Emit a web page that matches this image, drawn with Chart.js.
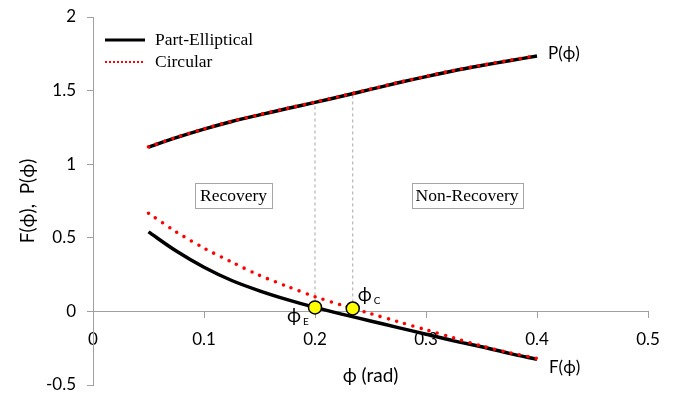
<!DOCTYPE html>
<html>
<head>
<meta charset="utf-8">
<script src="https://cdn.jsdelivr.net/npm/chart.js@4.4.1/dist/chart.umd.min.js"></script>
<style>
  html, body { margin: 0; padding: 0; background: #fff; }
  #wrap { width: 676px; height: 397px; }
</style>
</head>
<body>
<div id="wrap"><canvas id="c" width="676" height="397"></canvas></div>
<script>
// Angle samples (rad)
const phi = [0.05, 0.075, 0.1, 0.125, 0.15, 0.175, 0.2, 0.225, 0.25, 0.275, 0.3, 0.325, 0.35, 0.375, 0.4];

// Part-elliptical model
const fElliptical = [0.54, 0.41, 0.30, 0.21, 0.14, 0.08, 0.027, -0.02, -0.065, -0.11, -0.155, -0.20, -0.24, -0.285, -0.325];
const pElliptical = [1.116, 1.18, 1.238, 1.29, 1.335, 1.378, 1.42, 1.463, 1.508, 1.553, 1.595, 1.635, 1.67, 1.703, 1.735];

// Circular model
const fCircular = [0.667, 0.54, 0.43, 0.335, 0.245, 0.17, 0.10, 0.04, -0.015, -0.07, -0.125, -0.18, -0.235, -0.28, -0.32];
const pCircular = [1.118, 1.182, 1.24, 1.292, 1.337, 1.38, 1.422, 1.465, 1.51, 1.555, 1.597, 1.637, 1.672, 1.705, 1.738];

// Equilibrium points F(phi) = 0 and where they meet P(phi)
const phiE = { x: 0.2, y: 0.027, p: 1.42 };
const phiC = { x: 0.234, y: 0.02, p: 1.478 };

// Axis ticks
const xTicks = [0, 0.1, 0.2, 0.3, 0.4, 0.5];
const yTicks = [-0.5, 0, 0.5, 1, 1.5, 2];

const pts = (xs, ys) => xs.map((x, i) => ({ x: x, y: ys[i] }));

const RED = '#ff0000';
const AXIS = '#a0a0a0';
const SANS = 'Lato, "Open Sans", "DejaVu Sans", sans-serif';
const SERIF = '"Liberation Serif", "DejaVu Serif", serif';

// Free-floating annotations: legend, curve names, point names, region boxes
const annotations = {
  id: 'annotations',
  afterDatasetsDraw(chart) {
    const { ctx, chartArea: a, scales: { x, y } } = chart;
    ctx.save();

    // legend
    const lx = a.left + 12;
    ctx.lineCap = 'butt';
    ctx.strokeStyle = '#000';
    ctx.lineWidth = 3;
    ctx.beginPath(); ctx.moveTo(lx, a.top + 23); ctx.lineTo(lx + 40, a.top + 23); ctx.stroke();
    ctx.strokeStyle = RED;
    ctx.lineWidth = 2;
    ctx.setLineDash([2, 2]);
    ctx.beginPath(); ctx.moveTo(lx, a.top + 45); ctx.lineTo(lx + 40, a.top + 45); ctx.stroke();
    ctx.setLineDash([]);
    ctx.fillStyle = '#000';
    ctx.font = '17.5px ' + SERIF;
    ctx.textAlign = 'left';
    ctx.textBaseline = 'middle';
    ctx.fillText('Part-Elliptical', lx + 50, a.top + 23);
    ctx.fillText('Circular', lx + 50, a.top + 45);

    // region boxes
    const box = (label, cx, cy, w) => {
      const px = x.getPixelForValue(cx), py = y.getPixelForValue(cy);
      ctx.strokeStyle = '#a6a6a6';
      ctx.lineWidth = 1;
      ctx.strokeRect(Math.round(px - w / 2) + 0.5, Math.round(py - 12.5) + 0.5, w, 25);
      ctx.fillStyle = '#000';
      ctx.textAlign = 'center';
      ctx.fillText(label, px, py + 1);
    };
    box('Recovery', 0.1266, 0.788, 77);
    box('Non-Recovery', 0.337, 0.788, 111);

    // curve names
    ctx.font = '17px ' + SANS;
    ctx.textAlign = 'left';
    ctx.fillText('P(\u03D5)', x.getPixelForValue(0.4) + 11, y.getPixelForValue(pElliptical[pElliptical.length - 1]) - 2);
    ctx.fillText('F(\u03D5)', x.getPixelForValue(0.4) + 12, y.getPixelForValue(fElliptical[fElliptical.length - 1]) + 8);

    // point names with subscripts
    const named = (sub, px, py) => {
      ctx.font = '19px ' + SANS;
      ctx.textAlign = 'left';
      ctx.fillText('\u03D5', px, py);
      const w = ctx.measureText('\u03D5').width;
      ctx.font = '10px ' + SANS;
      ctx.fillText(sub, px + w + 2, py + 6);
    };
    named('E', x.getPixelForValue(phiE.x) - 28, y.getPixelForValue(phiE.y) + 8);
    named('C', x.getPixelForValue(phiC.x) + 5, y.getPixelForValue(phiC.y) - 14);

    ctx.restore();
  }
};

new Chart(document.getElementById('c'), {
  type: 'line',
  data: {
    datasets: [
      { label: 'phiE', data: [{ x: phiE.x, y: phiE.y }], showLine: false, pointRadius: 6.5,
        pointBackgroundColor: '#ffff00', pointBorderColor: '#000', pointBorderWidth: 1.5, order: 0 },
      { label: 'phiC', data: [{ x: phiC.x, y: phiC.y }], showLine: false, pointRadius: 6.5,
        pointBackgroundColor: '#ffff00', pointBorderColor: '#000', pointBorderWidth: 1.5, order: 0 },
      { label: 'Circular F', data: pts(phi, fCircular), borderColor: RED, borderWidth: 3.6,
        borderDash: [0, 8.5], borderCapStyle: 'round', pointRadius: 0, tension: 0.3, order: 1 },
      { label: 'Circular P', data: pts(phi, pCircular), borderColor: RED, borderWidth: 3.6,
        borderDash: [0, 8.5], borderCapStyle: 'round', pointRadius: 0, tension: 0.3, order: 1 },
      { label: 'Part-Elliptical F', data: pts(phi, fElliptical), borderColor: '#000', borderWidth: 3.5,
        pointRadius: 0, tension: 0.3, order: 2 },
      { label: 'Part-Elliptical P', data: pts(phi, pElliptical), borderColor: '#000', borderWidth: 3.5,
        pointRadius: 0, tension: 0.3, order: 2 },
      { label: 'E guide', data: [{ x: phiE.x, y: phiE.y }, { x: phiE.x, y: phiE.p }], borderColor: '#a6a6a6',
        borderWidth: 1, borderDash: [3, 3], pointRadius: 0, order: 3 },
      { label: 'C guide', data: [{ x: phiC.x, y: phiC.y }, { x: phiC.x, y: phiC.p }], borderColor: '#a6a6a6',
        borderWidth: 1, borderDash: [3, 3], pointRadius: 0, order: 3 }
    ]
  },
  options: {
    responsive: false,
    animation: false,
    devicePixelRatio: 1,
    layout: { padding: { left: 0, right: 28, top: 17, bottom: 12 } },
    plugins: { legend: { display: false }, tooltip: { enabled: false } },
    scales: {
      x: {
        type: 'linear',
        min: xTicks[0], max: xTicks[xTicks.length - 1],
        position: { y: 0 },
        afterBuildTicks: s => { s.ticks = xTicks.map(v => ({ value: v })); },
        afterFit: s => { s.paddingLeft = 0; s.paddingRight = 0; },
        ticks: { color: '#000', font: { family: SANS, size: 17 }, padding: 12, maxRotation: 0,
          callback: v => String(v) },
        grid: { drawOnChartArea: false, tickLength: 6, color: AXIS },
        border: { color: AXIS },
        title: { display: true, text: '\u03D5 (rad)', color: '#000',
          font: { family: SANS, size: 19 }, padding: { top: 3, bottom: 0 } }
      },
      y: {
        type: 'linear',
        min: yTicks[0], max: yTicks[yTicks.length - 1],
        afterBuildTicks: s => { s.ticks = yTicks.map(v => ({ value: v })); },
        afterFit: s => { s.width = 93; s.paddingTop = 0; s.paddingBottom = 0; },
        ticks: { color: '#000', font: { family: SANS, size: 17 }, padding: 11,
          callback: v => String(v) },
        grid: { drawOnChartArea: false, tickLength: 6, color: AXIS },
        border: { color: AXIS },
        title: { display: true, text: 'F(\u03D5),  P(\u03D5)', color: '#000',
          font: { family: SANS, size: 19 }, padding: { top: 16, bottom: 0 } }
      }
    }
  },
  plugins: [annotations]
});
</script>
</body>
</html>
